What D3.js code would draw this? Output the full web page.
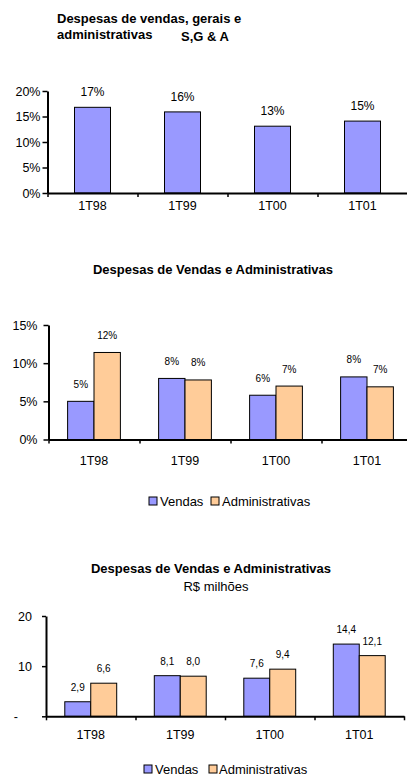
<!DOCTYPE html>
<html>
<head>
<meta charset="utf-8">
<script src="https://cdn.jsdelivr.net/npm/d3@7"></script>
<style>
  body { margin: 0; background: #fff; }
  svg { display: block; font-family: "Liberation Sans", Arial, sans-serif; }
</style>
</head>
<body>
<svg id="chart" width="407" height="776"></svg>
<script>
// dados
const periodos = ['1T98', '1T99', '1T00', '1T01'];
const series = ['Vendas', 'Administrativas'];

const sgaValores = [16.8, 15.9, 13.1, 14.1];
const sgaRotulos = ['17%', '16%', '13%', '15%'];

const pctVendas = [5.0, 8.0, 5.8, 8.2];
const pctAdmin = [11.4, 7.8, 7.0, 6.9];
const pctVendasRotulos = ['5%', '8%', '6%', '8%'];
const pctAdminRotulos = ['12%', '8%', '7%', '7%'];

const milVendas = [2.9, 8.1, 7.6, 14.4];
const milAdmin = [6.6, 8.0, 9.4, 12.1];
const milVendasRotulos = ['2,9', '8,1', '7,6', '14,4'];
const milAdminRotulos = ['6,6', '8,0', '9,4', '12,1'];

const ticksSga = [0, 5, 10, 15, 20];
const ticksPct = [0, 5, 10, 15];
const ticksMil = [0, 10, 20];

const cores = {Vendas: '#9999FF', Administrativas: '#FFCC99'};

const svg = d3.select('#chart');

function drawChart(opt) {
  const g = svg.append('g');

  const y = d3.scaleLinear().domain([0, opt.yMax]).range([opt.bottom, opt.top]);
  const x0 = d3.scaleBand().domain(periodos).range([opt.left, opt.right]).padding(0);
  const b = x0.bandwidth();
  const x1 = d3.scaleBand().domain(opt.series)
    .range([b * (1 - opt.groupFrac) / 2, b * (1 + opt.groupFrac) / 2]).padding(0);

  // barras
  const grupos = g.selectAll('.grupo')
    .data(periodos)
    .enter()
    .append('g')
    .attr('transform', d => 'translate(' + x0(d) + ',0)');

  grupos.selectAll('rect')
    .data((d, i) => opt.series.map(s => ({s: s, v: opt.values[s][i], l: opt.labels[s][i]})))
    .enter()
    .append('rect')
    .attr('x', d => x1(d.s))
    .attr('y', d => y(d.v))
    .attr('width', x1.bandwidth())
    .attr('height', d => y(0) - y(d.v))
    .attr('fill', d => cores[d.s])
    .attr('stroke', '#000')
    .attr('stroke-width', 1);

  grupos.selectAll('text')
    .data((d, i) => opt.series.map(s => ({s: s, v: opt.values[s][i], l: opt.labels[s][i]})))
    .enter()
    .append('text')
    .attr('x', d => x1(d.s) + x1.bandwidth() / 2)
    .attr('y', d => y(d.v) - opt.labelGap)
    .attr('text-anchor', 'middle')
    .style('font-size', opt.labelSize + 'px')
    .attr('fill', '#000')
    .text(d => d.l);

  // eixo y
  const yAxis = d3.axisLeft(y)
    .tickValues(opt.ticks)
    .tickSize(opt.yTickSize)
    .tickSizeOuter(0)
    .tickPadding(opt.yTickPad)
    .tickFormat(opt.tickFormat);
  const ya = g.append('g')
    .attr('transform', 'translate(' + opt.left + ',0)')
    .call(yAxis);
  ya.selectAll('text').style('font-size', '12.5px').attr('fill', '#000');
  if (opt.dashShift) {
    ya.selectAll('text').filter(d => d === 0).attr('dx', opt.dashShift);
  }

  // eixo x: linha e marcas nos limites das categorias
  const xi = d3.scaleLinear().domain([0, periodos.length]).range([opt.left, opt.right]);
  const xa = g.append('g')
    .attr('transform', 'translate(0,' + opt.bottom + ')')
    .call(d3.axisBottom(xi).tickValues(d3.range(periodos.length + 1)).tickSize(4).tickSizeOuter(0).tickFormat(''));

  const xl = g.append('g')
    .attr('transform', 'translate(0,' + opt.bottom + ')')
    .call(d3.axisBottom(x0).tickSize(0).tickPadding(opt.xLabelPad));
  xl.select('.domain').remove();
  xl.selectAll('text').style('font-size', '12.5px').attr('fill', '#000');

  [ya, xa].forEach(a => {
    a.select('.domain').attr('stroke', '#000').attr('stroke-width', 2);
    a.selectAll('.tick line').attr('stroke', '#000').attr('stroke-width', 1.5);
  });
}

// titulo 1
svg.append('text').attr('x', 57).attr('y', 22.5).style('font-size', '13px').style('font-weight', 'bold')
  .text('Despesas de vendas, gerais e');
svg.append('text').attr('x', 57).attr('y', 38.5).style('font-size', '13px').style('font-weight', 'bold')
  .text('administrativas');
svg.append('text').attr('x', 181).attr('y', 41).style('font-size', '13px').style('font-weight', 'bold')
  .text('S,G & A');

drawChart({
  series: ['Vendas'],
  values: {Vendas: sgaValores},
  labels: {Vendas: sgaRotulos},
  yMax: 20, top: 91, bottom: 193, left: 47.5, right: 407.5,
  groupFrac: 0.4, ticks: ticksSga, tickFormat: d => d + '%',
  yTickSize: 5, yTickPad: 2, xLabelPad: 8,
  labelGap: 11, labelSize: 12
});

// titulo 2
svg.append('text').attr('x', 213).attr('y', 273.5).attr('text-anchor', 'middle')
  .style('font-size', '13px').style('font-weight', 'bold')
  .text('Despesas de Vendas e Administrativas');

drawChart({
  series: series,
  values: {Vendas: pctVendas, Administrativas: pctAdmin},
  labels: {Vendas: pctVendasRotulos, Administrativas: pctAdminRotulos},
  yMax: 15, top: 325, bottom: 439.5, left: 48.5, right: 412.5,
  groupFrac: 0.58, ticks: ticksPct, tickFormat: d => d + '%',
  yTickSize: 5, yTickPad: 6, xLabelPad: 17,
  labelGap: 13.5, labelSize: 10
});

// titulo 3
svg.append('text').attr('x', 211).attr('y', 572.5).attr('text-anchor', 'middle')
  .style('font-size', '13px').style('font-weight', 'bold')
  .text('Despesas de Vendas e Administrativas');
svg.append('text').attr('x', 216).attr('y', 590.5).attr('text-anchor', 'middle')
  .style('font-size', '13px')
  .text('R$ milhões');

drawChart({
  series: series,
  values: {Vendas: milVendas, Administrativas: milAdmin},
  labels: {Vendas: milVendasRotulos, Administrativas: milAdminRotulos},
  yMax: 20, top: 616, bottom: 716.3, left: 46, right: 404,
  groupFrac: 0.58, ticks: ticksMil, tickFormat: d => d === 0 ? '-' : d,
  yTickSize: 4, yTickPad: 10, xLabelPad: 13.5,
  labelGap: 11, labelSize: 10, dashShift: -14
});

// legendas
function legenda(pos, cy) {
  series.forEach((s, i) => {
    svg.append('rect').attr('x', pos[i][0]).attr('y', cy - 4).attr('width', 8).attr('height', 8)
      .attr('fill', cores[s]).attr('stroke', '#000').attr('stroke-width', 1);
    svg.append('text').attr('x', pos[i][1]).attr('y', cy + 4.5).style('font-size', '13px').text(s);
  });
}
legenda([[149, 160], [211, 222]], 501);
legenda([[144, 155], [209, 219]], 769);
</script>
</body>
</html>
